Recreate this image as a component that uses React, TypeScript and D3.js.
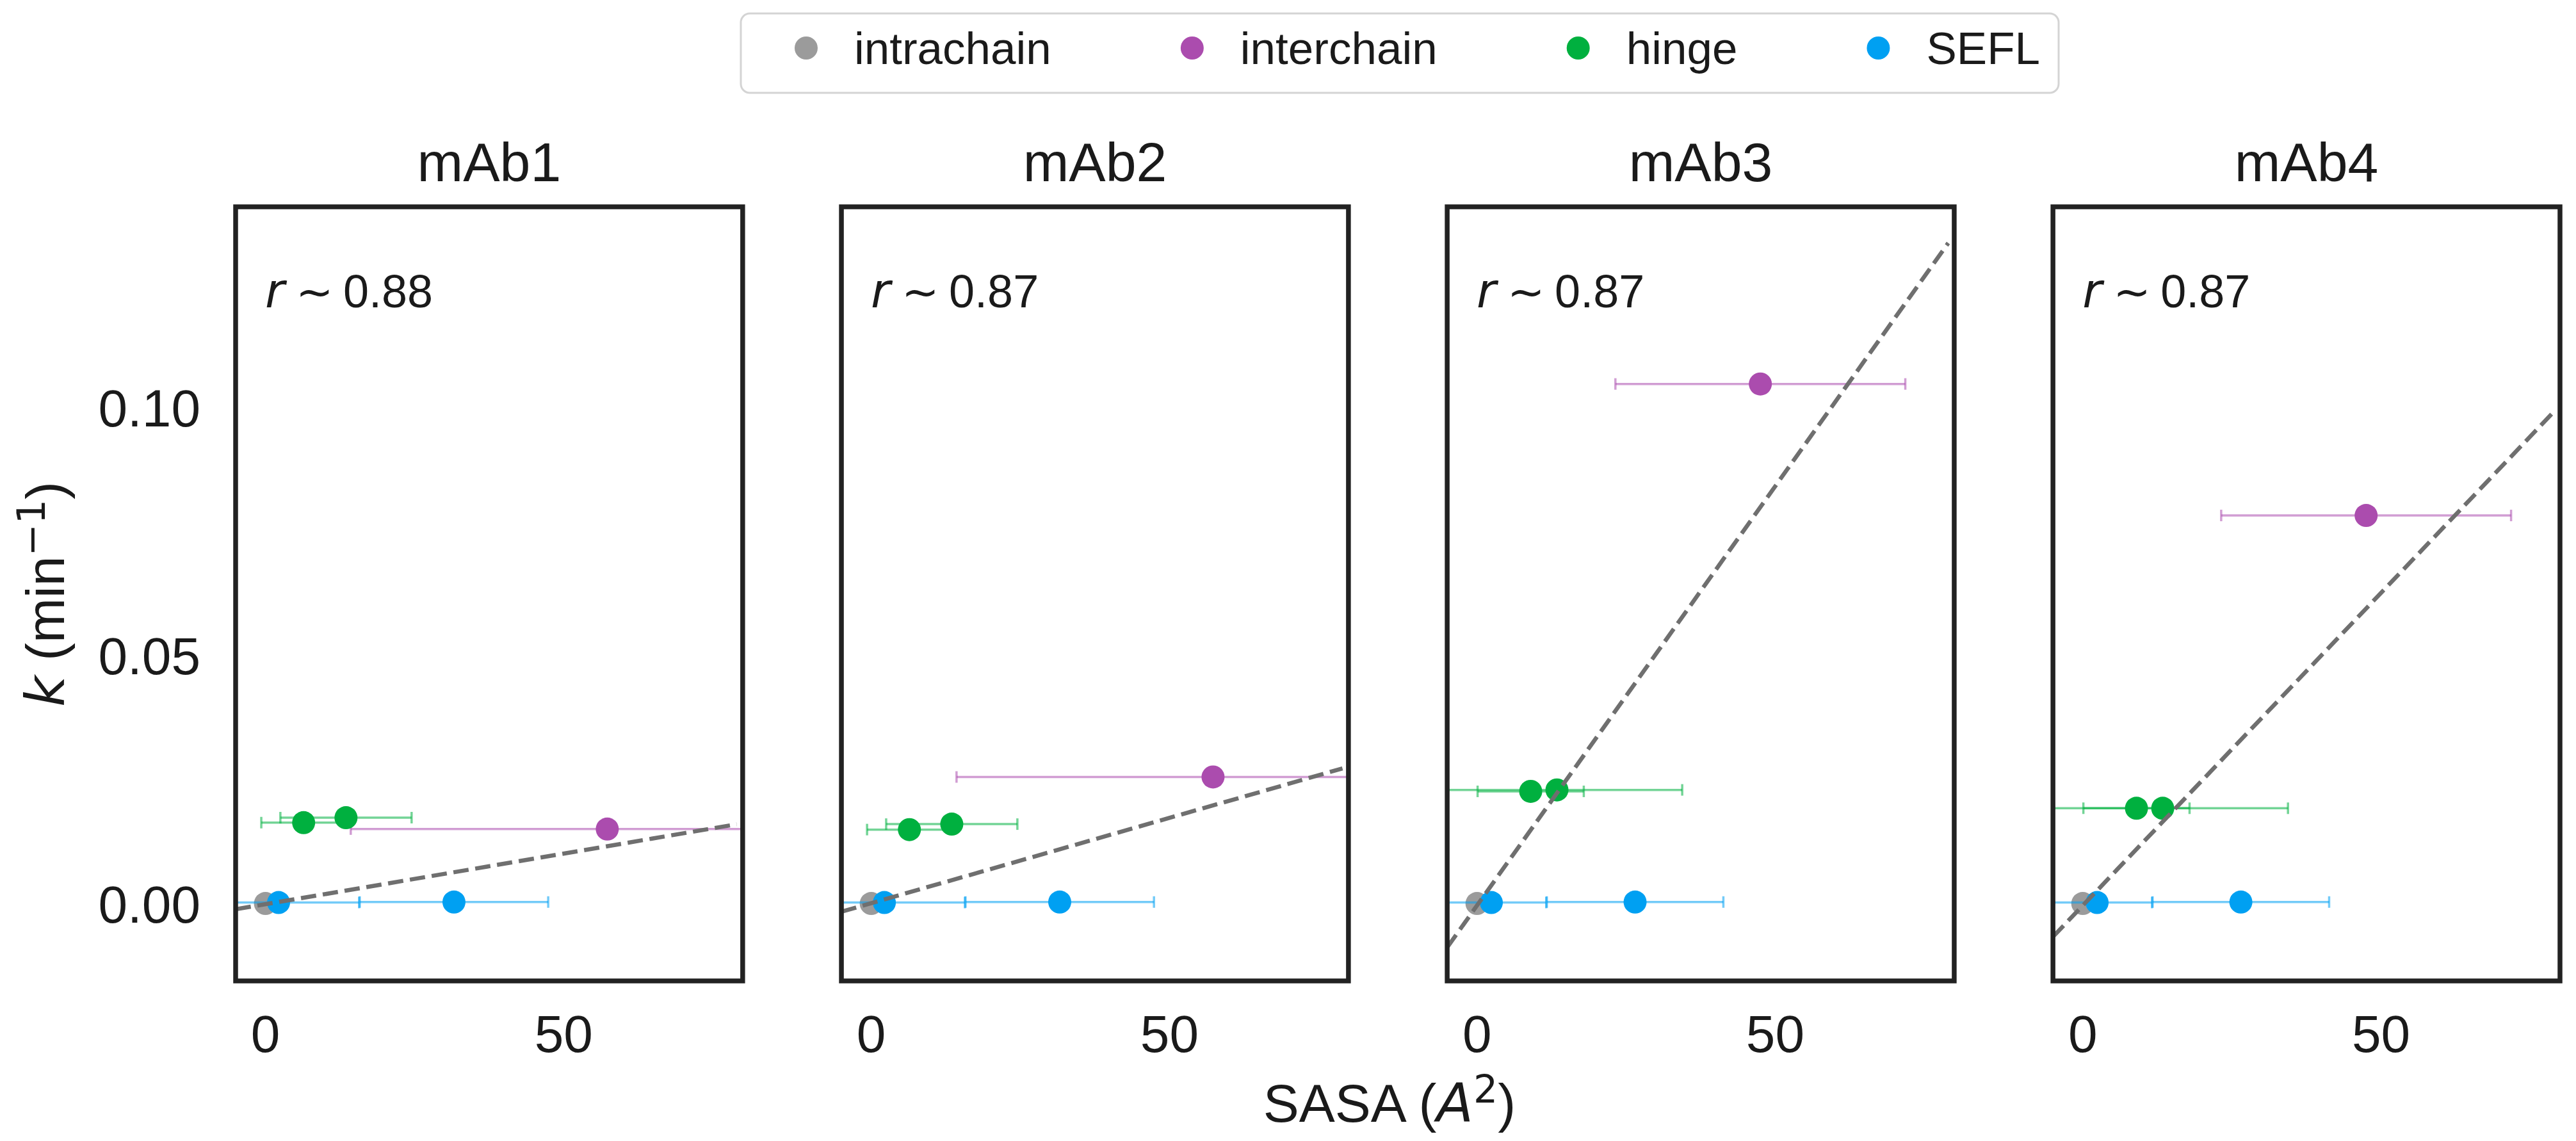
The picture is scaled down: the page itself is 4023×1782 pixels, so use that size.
import { useEffect, useRef } from "react";
import * as d3 from "d3";

const FIG_W = 4023;
const FIG_H = 1782;

// panels and legend entries
const panelNames = ["mAb1", "mAb2", "mAb3", "mAb4"];
const rLabels = ["0.88", "0.87", "0.87", "0.87"];
const seriesNames = ["intrachain", "interchain", "hinge", "SEFL"];
const seriesColors = ["#9b9b9b", "#ab4cae", "#00b03f", "#00a0f2"];

// SASA (x), its error, and k (y) for each series, one list per panel
const intraSasa = [[0], [0], [0], [0]];
const intraErr = [[0], [0], [0], [0]];
const intraK = [[0], [0], [0], [0]];

const interSasa = [[57.3], [57.3], [47.5], [47.5]];
const interErr = [[43], [43], [24.3], [24.3]];
const interK = [[0.015], [0.0255], [0.1047], [0.0782]];

const hingeSasa = [[6.4, 13.5], [6.4, 13.5], [9.0, 13.4], [9.0, 13.4]];
const hingeErr = [[7.1, 11], [7.1, 11], [8.9, 21], [8.9, 21]];
const hingeK = [[0.0163, 0.0173], [0.0149, 0.016], [0.0226, 0.0229], [0.0192, 0.0192]];

const seflSasa = [[2.2, 31.6], [2.2, 31.6], [2.4, 26.5], [2.4, 26.5]];
const seflErr = [[13.5, 15.8], [13.5, 15.8], [9.2, 14.8], [9.2, 14.8]];
const seflK = [[0.0002, 0.0003], [0.0002, 0.0003], [0.0002, 0.0003], [0.0002, 0.0003]];

// linear fits k = a + b * SASA
const fitIntercept = [-0.00014, 0.00006, -0.0004, -0.0004];
const fitSlope = [0.000204, 0.000344, 0.00169, 0.00126];
const fitRange = [-5, 79];

const xTicks = [0, 50];
const yTicks = [0, 0.05, 0.1];
const xDomain = [-5, 80];
const yDomain = [-0.0156, 0.1404];

const sasaBySeries = [intraSasa, interSasa, hingeSasa, seflSasa];
const errBySeries = [intraErr, interErr, hingeErr, seflErr];
const kBySeries = [intraK, interK, hingeK, seflK];

const SANS = "'Liberation Sans', Arial, sans-serif";
const MATH = "'DejaVu Sans', sans-serif";

export default function App() {
    const svgRef = useRef<SVGSVGElement>(null);

    useEffect(() => {
        if (!svgRef.current) return;
        const svg = d3.select(svgRef.current);
        svg.selectAll("*").remove();

        const top = 323;
        const bottom = 1532;

        const panelX = d3
            .scaleBand()
            .domain(panelNames)
            .range([368, 3998])
            .paddingInner(0.163);

        const y = d3.scaleLinear().domain(yDomain).range([bottom, top]);

        const defs = svg.append("defs");

        panelNames.forEach((name, p) => {
            const left = panelX(name)!;
            const w = panelX.bandwidth();
            const x = d3.scaleLinear().domain(xDomain).range([left, left + w]);

            defs.append("clipPath")
                .attr("id", `clip${p}`)
                .append("rect")
                .attr("x", left)
                .attr("y", top)
                .attr("width", w)
                .attr("height", bottom - top);

            const g = svg.append("g");
            const plot = g.append("g").attr("clip-path", `url(#clip${p})`);

            seriesNames.forEach((s, si) => {
                const color = seriesColors[si];
                const xs = sasaBySeries[si][p];
                const es = errBySeries[si][p];
                const ks = kBySeries[si][p];
                const pts = xs.map((v, i) => ({ x: v, e: es[i], k: ks[i] }));

                // error bars
                pts.filter((d) => d.e > 0).forEach((d) => {
                    const eb = plot.append("g")
                        .attr("stroke", color)
                        .attr("stroke-opacity", 0.55)
                        .attr("stroke-width", 3.5);
                    eb.append("line")
                        .attr("x1", x(d.x - d.e))
                        .attr("x2", x(d.x + d.e))
                        .attr("y1", y(d.k))
                        .attr("y2", y(d.k));
                    [d.x - d.e, d.x + d.e].forEach((cx) => {
                        eb.append("line")
                            .attr("x1", x(cx))
                            .attr("x2", x(cx))
                            .attr("y1", y(d.k) - 9)
                            .attr("y2", y(d.k) + 9);
                    });
                });

                // markers
                plot.selectAll(null)
                    .data(pts)
                    .join("circle")
                    .attr("cx", (d) => x(d.x))
                    .attr("cy", (d) => y(d.k))
                    .attr("r", 18)
                    .attr("fill", color);
            });

            // fit line
            const line = d3.line<number>()
                .x((v) => x(v))
                .y((v) => y(fitIntercept[p] + fitSlope[p] * v));
            plot.append("path")
                .attr("d", line(fitRange))
                .attr("fill", "none")
                .attr("stroke", "#6f6f6f")
                .attr("stroke-width", 6.5)
                .attr("stroke-dasharray", "24 10.5");

            // frame
            g.append("rect")
                .attr("x", left)
                .attr("y", top)
                .attr("width", w)
                .attr("height", bottom - top)
                .attr("fill", "none")
                .attr("stroke", "#222")
                .attr("stroke-width", 7.5);

            // title
            g.append("text")
                .attr("x", left + w / 2)
                .attr("y", 283)
                .attr("text-anchor", "middle")
                .style("font-family", SANS)
                .style("font-size", "86px")
                .style("fill", "#1a1a1a")
                .text(name);

            // r annotation
            const rt = g.append("text")
                .attr("y", 480)
                .style("font-family", SANS)
                .style("font-size", "72px")
                .style("fill", "#1a1a1a");
            rt.append("tspan")
                .attr("x", left + 46)
                .style("font-family", MATH)
                .style("font-style", "italic")
                .style("font-size", "74px")
                .text("r");
            rt.append("tspan")
                .attr("x", left + 94)
                .style("font-family", MATH)
                .style("font-size", "70px")
                .text("~");
            rt.append("tspan").attr("x", left + 168).text(rLabels[p]);

            // x ticks
            g.selectAll(null)
                .data(xTicks)
                .join("text")
                .attr("x", (d) => x(d))
                .attr("y", 1643)
                .attr("text-anchor", "middle")
                .style("font-family", SANS)
                .style("font-size", "82px")
                .style("fill", "#1a1a1a")
                .text((d) => String(d));

            // y ticks only on first panel
            if (p === 0) {
                g.selectAll(null)
                    .data(yTicks)
                    .join("text")
                    .attr("x", left - 55)
                    .attr("y", (d) => y(d) + 0.36 * 82)
                    .attr("text-anchor", "end")
                    .style("font-family", SANS)
                    .style("font-size", "82px")
                    .style("fill", "#1a1a1a")
                    .text((d) => d3.format(".2f")(d));
            }
        });

        // y label
        const yl = svg.append("text")
            .attr("transform", "translate(100, 928) rotate(-90)")
            .attr("text-anchor", "middle")
            .style("font-family", SANS)
            .style("font-size", "84px")
            .style("fill", "#1a1a1a");
        yl.append("tspan").style("font-family", MATH).style("font-style", "italic").text("k");
        yl.append("tspan").text(" (min");
        yl.append("tspan")
            .attr("dy", -30)
            .style("font-family", MATH)
            .style("font-size", "60px")
            .text("\u22121");
        yl.append("tspan").attr("dy", 30).text(")");

        // x label
        const xl = svg.append("text")
            .attr("x", 2170)
            .attr("y", 1752)
            .attr("text-anchor", "middle")
            .style("font-family", SANS)
            .style("font-size", "84px")
            .style("fill", "#1a1a1a");
        xl.append("tspan").text("SASA (");
        xl.append("tspan").style("font-family", MATH).style("font-style", "italic").text("A");
        xl.append("tspan")
            .attr("dy", -30)
            .style("font-family", MATH)
            .style("font-size", "60px")
            .text("2");
        xl.append("tspan").attr("dy", 30).text(")");

        // legend
        const lg = svg.append("g");
        const box = lg.append("rect");
        let cx = 0;
        let lastEnd = 0;
        seriesNames.forEach((s, i) => {
            lg.append("circle")
                .attr("cx", cx)
                .attr("cy", 75)
                .attr("r", 18)
                .attr("fill", seriesColors[i]);
            const t = lg.append("text")
                .attr("x", cx + 75)
                .attr("y", 100)
                .style("font-family", SANS)
                .style("font-size", "71px")
                .style("fill", "#1a1a1a")
                .text(s);
            const tw = (t.node() as SVGTextElement).getComputedTextLength();
            lastEnd = cx + 75 + tw;
            cx = lastEnd + 220;
        });
        const boxL = -102;
        const boxR = lastEnd + 29;
        box.attr("x", boxL)
            .attr("y", 21)
            .attr("width", boxR - boxL)
            .attr("height", 124)
            .attr("rx", 14)
            .attr("fill", "#fff")
            .attr("stroke", "#d4d4d4")
            .attr("stroke-width", 3);
        lg.attr("transform", `translate(${2186 - (boxL + boxR) / 2}, 0)`);
    }, []);

    return (
        <svg
            ref={svgRef}
            width={FIG_W}
            height={FIG_H}
            viewBox={`0 0 ${FIG_W} ${FIG_H}`}
            style={{ position: "absolute", left: 0, top: 0, background: "#fff" }}
        />
    );
}
